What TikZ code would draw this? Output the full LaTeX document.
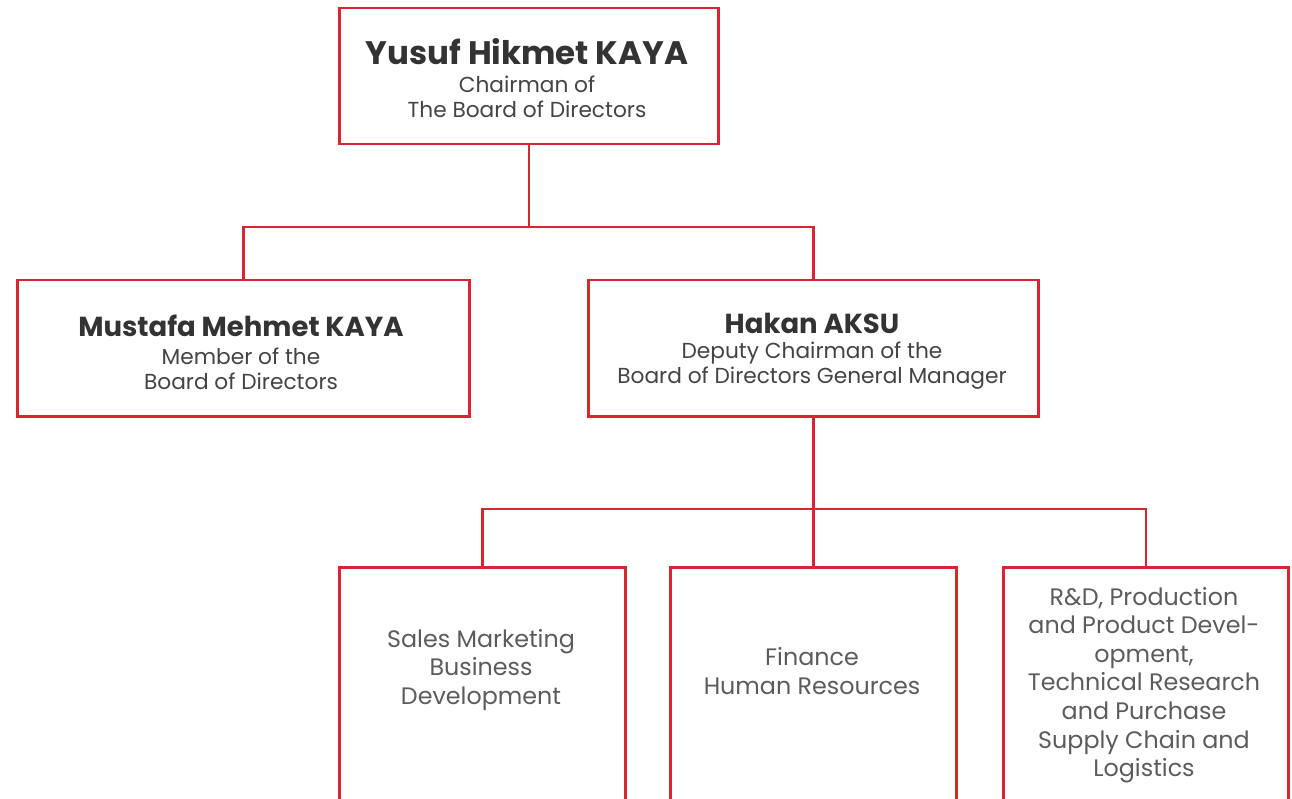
\documentclass[tikz,border=0pt]{standalone}
\usepackage{fontspec}
\setmainfont{Poppins}
\definecolor{bred}{HTML}{D9252F}
\definecolor{tdark}{HTML}{333333}
\definecolor{tmid}{HTML}{444444}
\definecolor{tgrey}{HTML}{5C5C5C}
\begin{document}
\begin{tikzpicture}[x=1pt,y=-1pt,
  box/.style={draw=bred, line width=2.5pt, inner sep=0pt, anchor=north west, rectangle},
  conn/.style={draw=bred, line width=2.5pt},
  namet/.style={text=tdark, font=\fontsize{27.5}{32}\selectfont\bfseries, inner sep=0pt, anchor=base},
  bignamet/.style={namet, font=\fontsize{32.5}{36}\selectfont\bfseries},
  subt/.style={text=tmid, font=\fontsize{21.7}{25}\selectfont, inner sep=0pt, align=center, anchor=center},
  unitt/.style={text=tgrey, font=\fontsize{23.8}{28.6}\selectfont, inner sep=0pt, align=center, anchor=center}]
\clip (0,0) rectangle (1292,799);
\fill[white] (0,0) rectangle (1292,799);
% boxes
\node[box, minimum width=379pt, minimum height=136pt] (top) at (338,7) {};
\node[box, minimum width=452pt, minimum height=136pt] (mus) at (16,279) {};
\node[box, minimum width=450pt, minimum height=136pt] (hak) at (587,279) {};
\node[box, minimum width=286pt, minimum height=260pt] (sal) at (338,566) {};
\node[box, minimum width=286pt, minimum height=260pt] (fin) at (669,566) {};
\node[box, minimum width=285pt, minimum height=260pt] (rnd) at (1002,566) {};
% connectors
\coordinate (j1) at (top.south |- 0,227);
\coordinate (j2) at (hak.south |- 0,509);
\draw[conn] (top.south) -- (j1);
\draw[conn] (mus.north) |- (j1) -| (hak.north);
\draw[conn] (hak.south) -- (j2) -- (fin.north);
\draw[conn] (sal.north) |- (j2) -| (rnd.north);
% texts
\node[bignamet] (tn) at (527,65) {Yusuf Hikmet KAYA};
\node[subt] (ts) at (527,97) {Chairman of\\The Board of Directors};
\node[namet] (mn) at (241,337) {Mustafa Mehmet KAYA};
\node[subt] (ms) at (241,369) {Member of the\\Board of Directors};
\node[namet] (hn) at (812,334) {Hakan AKSU};
\node[subt] (hs) at (812,366) {Deputy Chairman of the\\Board of Directors General Manager};
\node[unitt] (st) at (481,670) {Sales Marketing\\Business\\Development};
\node[unitt] (ft) at (812,671) {Finance\\Human Resources};
\node[unitt] (rt) at (1144,685) {R\&D, Production\\and Product Devel-\\opment,\\Technical Research\\and Purchase\\Supply Chain and\\Logistics};
\end{tikzpicture}
\end{document}
